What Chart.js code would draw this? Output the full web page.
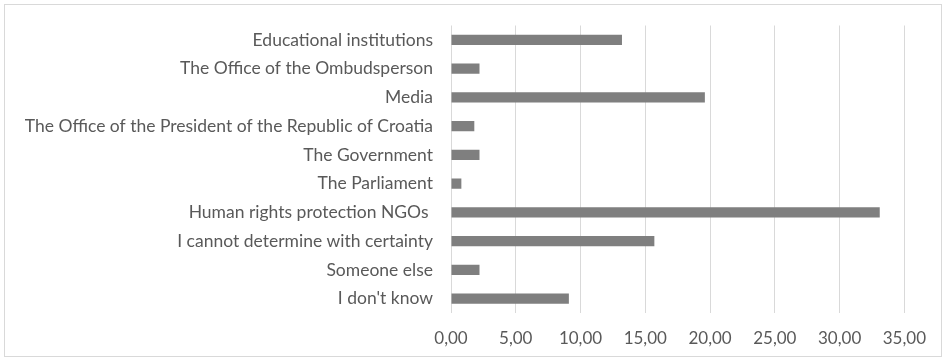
<!DOCTYPE html>
<html>
<head>
<meta charset="utf-8">
<script src="https://cdn.jsdelivr.net/npm/chart.js@4.4.1/dist/chart.umd.min.js"></script>
<style>
  body { margin: 0; background: #fff; }
  #wrap {
    position: absolute; left: 4px; top: 4px;
    width: 936px; height: 351px;
    border: 1px solid #d9d9d9;
  }
</style>
</head>
<body>
<div id="wrap"><canvas id="barChart"></canvas></div>
<script>
// who respondents think protects human rights (%)
const categories = [
  'Educational institutions',
  'The Office of the Ombudsperson',
  'Media',
  'The Office of the President of the Republic of Croatia',
  'The Government',
  'The Parliament',
  'Human rights protection NGOs ',
  'I cannot determine with certainty',
  'Someone else',
  "I don't know",
];
const shares = [13.2, 2.2, 19.6, 1.8, 2.2, 0.8, 33.1, 15.7, 2.2, 9.1];
const xTicks = [0, 5, 10, 15, 20, 25, 30, 35];

const textGrey = '#595959';
Chart.defaults.font.family = 'Lato, "Open Sans", sans-serif';
Chart.defaults.font.size = 17.5;
Chart.defaults.color = textGrey;

const ctx = document.getElementById('barChart').getContext('2d');
const barChart = new Chart(ctx, {
  type: 'bar',
  data: {
    labels: categories,
    datasets: [{
      data: shares,
      backgroundColor: '#7f7f7f',
      borderWidth: 0,
      barPercentage: 0.36,
      categoryPercentage: 1,
    }],
  },
  options: {
    indexAxis: 'y',
    responsive: true,
    maintainAspectRatio: false,
    animation: false,
    layout: { padding: { top: 20, right: 36, bottom: 0, left: 0 } },
    plugins: {
      legend: { display: false },
      tooltip: { enabled: false },
    },
    scales: {
      x: {
        min: 0,
        max: 35,
        afterBuildTicks: (axis) => {
          axis.ticks = xTicks.map(v => ({ value: v }));
        },
        afterFit: (axis) => { axis.height = 43; },
        grid: { color: '#d9d9d9', drawTicks: false },
        border: { display: false },
        ticks: {
          padding: 15,
          font: { size: 17 },
          callback: (v) => Number(v).toFixed(2).replace('.', ','),
        },
      },
      y: {
        afterFit: (axis) => { axis.width = 446; },
        grid: { display: false },
        border: { display: false },
        ticks: { padding: 10, autoSkip: false },
      },
    },
  },
});
</script>
</body>
</html>
